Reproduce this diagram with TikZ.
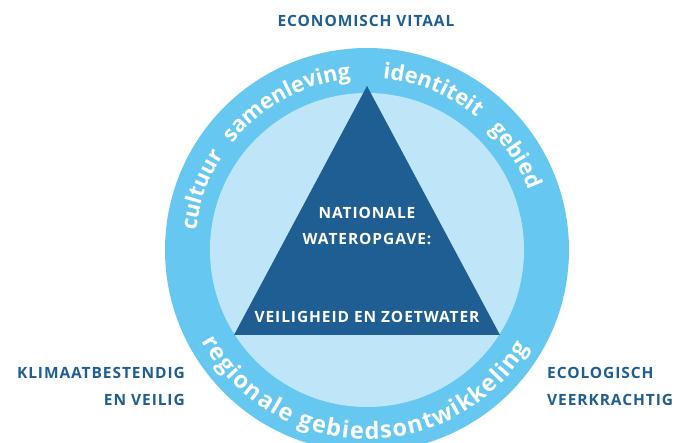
\documentclass[tikz,border=0pt]{standalone}
\usepackage{fontspec}
\setmainfont{Open Sans}
\newfontfamily\arcfont{Open Sans Bold}
\newfontfamily\labfont[LetterSpace=6]{Open Sans Bold}
\usetikzlibrary{decorations.text}
\definecolor{ringblue}{HTML}{66C8F0}
\definecolor{innerblue}{HTML}{BEE6F8}
\definecolor{triblue}{HTML}{1F5E92}
\tikzset{
  ringtext/.style={decorate,decoration={text along path,text align=center,
    text={|\arcfont\fontsize{22}{22}\selectfont\color{white}|#1}}},
  ringfit/.style={decorate,decoration={text along path,text align=fit to path,
    text={|\arcfont\fontsize{23.5}{23.5}\selectfont\color{white}|#1}}},
  trilabel/.style={text=white,font=\labfont\fontsize{15.5}{15.5}\selectfont,inner sep=0pt},
  outlabel/.style={text=triblue,font=\labfont\fontsize{15.5}{15.5}\selectfont,inner sep=0pt}
}
\begin{document}
\begin{tikzpicture}[x=1pt,y=1pt]
\useasboundingbox (-367,-193) rectangle (311,250);
\clip (-367,-193) rectangle (311,250);
\coordinate (c) at (0,0);
\fill[ringblue] (c) circle[radius=202pt];
\fill[innerblue] (c) circle[radius=157pt];
\fill[triblue] (0,164) coordinate (apex) -- (-133,-85) coordinate (bl) -- (133,-85) coordinate (br) -- cycle;
% curved words
\path[ringtext=cultuur] (190:172pt) arc[start angle=190,end angle=130,radius=172pt];
\path[ringtext=samenleving] (150:172pt) arc[start angle=150,end angle=87,radius=172pt];
\path[ringtext=identiteit] (100:172pt) arc[start angle=100,end angle=35,radius=172pt];
\path[ringtext=gebied] (60:172pt) arc[start angle=60,end angle=5,radius=172pt];
\path[ringfit=regionale gebiedsontwikkeling] (209:189pt) arc[start angle=209,end angle=329,radius=189pt];
% triangle texts
\node[trilabel] (nat) at (0,37) {NATIONALE};
\node[trilabel] (wat) at (0,11) {WATEROPGAVE:};
\node[trilabel] (vei) at (0,-67) {VEILIGHEID EN ZOETWATER};
% outer labels
\node[outlabel] (eco) at (-1,229) {ECONOMISCH VITAAL};
\node[outlabel,anchor=east] (kli) at (-182,-123) {KLIMAATBESTENDIG};
\node[outlabel,anchor=east] (env) at (-182,-150) {EN VEILIG};
\node[outlabel,anchor=west] (ecol) at (180,-123) {ECOLOGISCH};
\node[outlabel,anchor=west] (veer) at (180,-150) {VEERKRACHTIG};
\end{tikzpicture}
\end{document}
